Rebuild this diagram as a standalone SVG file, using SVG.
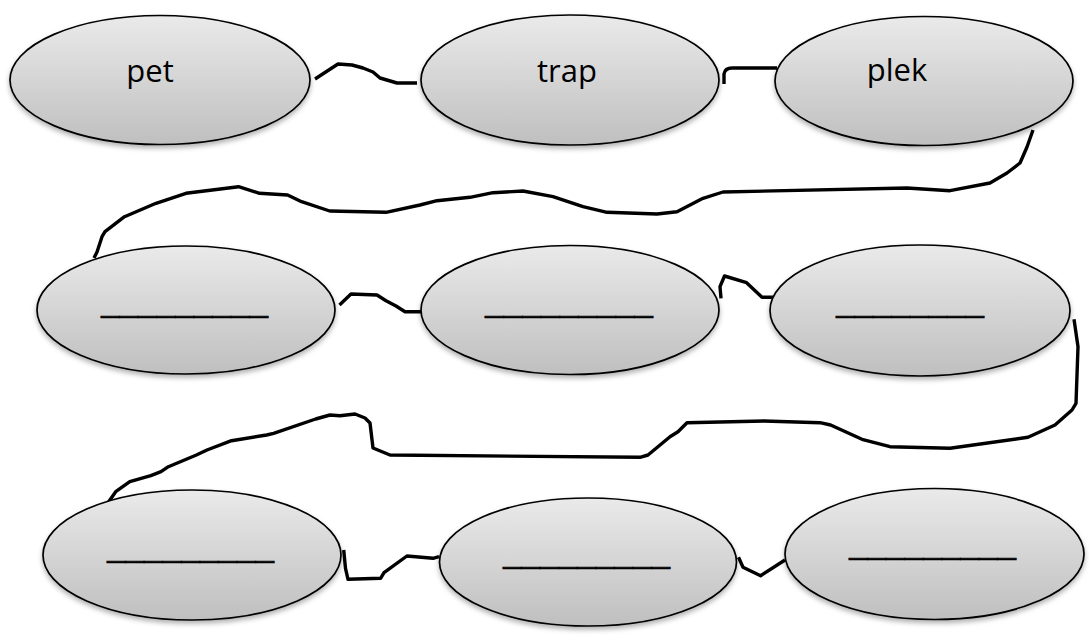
<svg xmlns="http://www.w3.org/2000/svg" width="1089" height="641" viewBox="0 0 1089 641">
<style>
.node ellipse{fill:url(#g);stroke:#000;stroke-width:1.7;filter:url(#sh)}
.lbl{font-family:"Open Sans","Liberation Sans",sans-serif;font-size:31px;fill:#000;text-anchor:middle}
.blank{font-family:"Open Sans","Liberation Sans",sans-serif;font-size:31px;fill:#000;stroke:#000;stroke-width:0.7}
#connectors path{fill:none;stroke:#000;stroke-width:3.4;stroke-linejoin:round;stroke-linecap:butt}
</style>
<defs>
<linearGradient id="g" x1="0" y1="0" x2="0" y2="1">
<stop offset="0" stop-color="#eaeaea"/>
<stop offset="1" stop-color="#bfbfbf"/>
</linearGradient>
<filter id="sh" x="-10%" y="-10%" width="120%" height="130%">
<feDropShadow dx="0" dy="3" stdDeviation="2.5" flood-color="#000" flood-opacity="0.3"/>
</filter>
</defs>
<rect width="1089" height="641" fill="#fff"/>
<g id="connectors">
<path d="M315,79 L338,64 L352,65 L363,68 L373,72 L380,78 L397,83 L417,83"/>
<path d="M724,84 L724,74 Q725,68 732,68 L777,68"/>
<path d="M1033,130 L1027,147 L1020,163 L1007,173 L990,183 L950,190.7 L907,188 L723,192 L703,198.3 L677,211.7 L657,214 L607,212.3 L583,206.7 L553,196.7 L523,191 L493,192.7 L470,197.3 L437,200.7 L420,205 L386,212.3 L329.7,211 L301.6,201.7 L287.6,195 L259.5,193.3 L238.5,186.7 L186,193.3 L156,203.3 L124.5,216.7 L105,231.7 L102,236.7 L97,252 L94,258"/>
<path d="M339.5,305 L351,294 L377,295 L386,300.7 L396,306 L405,311.7 L421,311.7"/>
<path d="M721,298.3 L720,286.7 L724.5,276 L746.6,282.7 L762,297.3 L773,297.3"/>
<path d="M1074,319.3 L1078,346.7 L1076,403.3 L1072,410 L1055,425 L1028,437.3 L950,448.3 L890,446.7 L862,439.3 L830.6,425 L820,422.7 L764,421 L687,422.7 L678,431.7 L670,436.7 L648,455 L640,457.3 L390,455 L373,448 L370,423 L365,418 L355,414 L340,415.7 L330,415 L315.7,419 L273.6,433.3 L266.6,435 L231.5,440.7 L207,450 L196.4,455 L168.4,466.7 L161,471.7 L150.8,475.7 L129.8,481.7 L115.7,491.7 L108.7,501.7"/>
<path d="M343.7,550 L345.5,568.3 L348,579.3 L380.6,578.3 L384,572.7 L406.9,556 L433,558.3 L439,556.7"/>
<path d="M738.5,557.3 L743,567.3 L760.6,575.7 L785,560"/>
</g>
<g id="n1" class="node"><ellipse cx="160" cy="80" rx="150" ry="64.5"/><text class="lbl" x="150" y="82">pet</text></g>
<g id="n2" class="node"><ellipse cx="570" cy="80" rx="149" ry="65"/><text class="lbl" x="567" y="82">trap</text></g>
<g id="n3" class="node"><ellipse cx="924" cy="81" rx="149" ry="64.5"/><text class="lbl" x="897" y="81">plek</text></g>
<g id="n4" class="node"><ellipse cx="186" cy="310" rx="149" ry="64"/><text class="blank" x="101" y="313" textLength="167" lengthAdjust="spacingAndGlyphs">_________</text></g>
<g id="n5" class="node"><ellipse cx="570" cy="310" rx="149" ry="64.5"/><text class="blank" x="485" y="313" textLength="168" lengthAdjust="spacingAndGlyphs">_________</text></g>
<g id="n6" class="node"><ellipse cx="920" cy="310.5" rx="150" ry="65.5"/><text class="blank" x="836" y="313" textLength="148" lengthAdjust="spacingAndGlyphs">________</text></g>
<g id="n7" class="node"><ellipse cx="192" cy="555" rx="149" ry="65"/><text class="blank" x="107" y="558" textLength="167" lengthAdjust="spacingAndGlyphs">_________</text></g>
<g id="n8" class="node"><ellipse cx="588" cy="562" rx="148.5" ry="64"/><text class="blank" x="503" y="564" textLength="167" lengthAdjust="spacingAndGlyphs">_________</text></g>
<g id="n9" class="node"><ellipse cx="934.5" cy="554" rx="149.5" ry="65.5"/><text class="blank" x="849" y="555" textLength="167" lengthAdjust="spacingAndGlyphs">_________</text></g>
</svg>
